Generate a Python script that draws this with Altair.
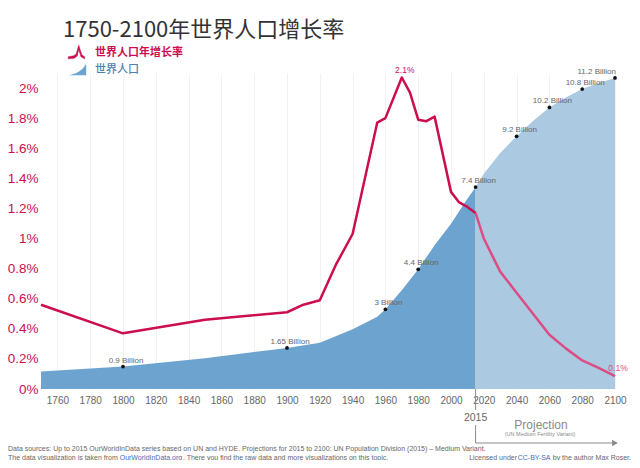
import altair as alt
import pandas as pd

# ---------------- data ----------------
RATE_H = "世界人口年增长率"
RATE_P = "世界人口年增长率（预测）"
POP_H = "世界人口"
POP_P = "世界人口（预测）"

rate_years_hist = [1750, 1800, 1850, 1900, 1910, 1920, 1930, 1940, 1955, 1960,
                   1970, 1975, 1980, 1985, 1990, 2000, 2005, 2010, 2015]
rate_hist = [0.56, 0.37, 0.46, 0.51, 0.56, 0.59, 0.83, 1.03, 1.77, 1.80,
             2.07, 1.97, 1.79, 1.78, 1.81, 1.31, 1.24, 1.21, 1.17]
rate_years_proj = [2015, 2020, 2025, 2030, 2040, 2050, 2060, 2070, 2080, 2090, 2100]
rate_proj = [1.17, 1.00, 0.89, 0.78, 0.64, 0.50, 0.36, 0.27, 0.19, 0.14, 0.085]

pop_years_hist = [1750, 1800, 1850, 1900, 1920, 1940, 1950, 1955, 1960, 1970,
                  1980, 1990, 2000, 2010, 2015]
pop_hist = [0.63, 0.81, 1.11, 1.48, 1.67, 2.15, 2.45, 2.6, 2.87, 3.56,
            4.31, 5.18, 5.95, 6.85, 7.27]
pop_years_proj = [2015, 2020, 2030, 2040, 2050, 2060, 2070, 2080, 2090, 2100]
pop_proj = [7.27, 7.75, 8.5, 9.10, 9.65, 10.14, 10.5, 10.80, 11.02, 11.2]

mark_years = [1800, 1900, 1960, 1980, 2015, 2040, 2060, 2080, 2100]
mark_pops = [0.81, 1.48, 2.87, 4.31, 7.27, 9.10, 10.14, 10.80, 11.2]
mark_texts = ["0.9 Billion", "1.65 Billion", "3 Billion", "4.4 Billion", "7.4 Billion",
              "9.2 Billion", "10.2 Billion", "10.8 Billion", "11.2 Billion"]

rate_label_years = [1970, 2100]
rate_label_values = [2.07, 0.085]
rate_label_texts = ["2.1%", "0.1%"]

x_ticks = list(range(1760, 2101, 20))
y_ticks = [0, 0.2, 0.4, 0.6, 0.8, 1.0, 1.2, 1.4, 1.6, 1.8, 2.0]
split_year = [2015]
end_year = [2100]

# ---------------- styles ----------------
RED = "#cc0e4f"
PINK = "#db4d84"
BLUE = "#6da3cf"
LIGHT_BLUE = "#abc9e1"
GRID = "#f1f1f1"
GRAY = "#8a8a8a"
LINK = "#3c6fb4"
W, H = 574, 316
FONT = "Liberation Sans"
CJK = "Noto Sans CJK SC"

x_scale = alt.Scale(domain=[1750, 2100], nice=False, zero=False)
y_rate = alt.Scale(domain=[0, 2.1], nice=False, zero=True)
y_pop = alt.Scale(domain=[0, 2.1 * 5.419], nice=False, zero=True)

x_axis = alt.Axis(values=x_ticks, format="d", title=None, ticks=False, domain=False,
                  labelColor="#666", labelFontSize=10, labelFont=FONT, labelPadding=6,
                  gridColor=GRID, labelOverlap=False, labelFlush=False)
x_enc = alt.X("year:Q", scale=x_scale, axis=x_axis)

pop_df = pd.DataFrame({
    "year": pop_years_hist + pop_years_proj,
    "pop": pop_hist + pop_proj,
    "series": [POP_H] * len(pop_hist) + [POP_P] * len(pop_proj),
})
rate_df = pd.DataFrame({
    "year": rate_years_hist + rate_years_proj,
    "rate": rate_hist + rate_proj,
    "series": [RATE_H] * len(rate_hist) + [RATE_P] * len(rate_proj),
})
marks_df = pd.DataFrame({"year": mark_years, "pop": mark_pops, "label": mark_texts})
rlab_df = pd.DataFrame({"year": rate_label_years, "rate": rate_label_values,
                        "label": rate_label_texts})

# legend icons (thick peak drawn as a thin polygon; rising area)
PEAK_PATH = ("M-1,0.42 L-0.45,0.32 L-0.22,0.12 L0.02,-0.72 L0.32,0.22 L0.6,0.42 "
             "L0.6,0.62 L0.24,0.42 L0.02,-0.3 L-0.12,0.34 L-0.42,0.56 L-1,0.62 Z")
AREA_PATH = "M-1,0.55 C-0.3,0.5 0.3,0.2 0.75,-0.55 L0.75,0.55 Z"

area = alt.Chart(pop_df).mark_area(opacity=1).encode(
    x=x_enc,
    y=alt.Y("pop:Q", scale=y_pop, axis=None, stack=None),
    fill=alt.Fill("series:N",
                  scale=alt.Scale(domain=[POP_H, POP_P], range=[BLUE, LIGHT_BLUE]),
                  legend=alt.Legend(values=[POP_H], title=None, orient="none",
                                    legendX=27, legendY=-14, padding=0,
                                    symbolType=AREA_PATH, symbolSize=420,
                                    symbolStrokeWidth=0, symbolFillColor=LIGHT_BLUE,
                                    labelColor="#4f80b5", labelFont=CJK,
                                    labelFontSize=11, labelFontWeight=500,
                                    labelOffset=6)),
)
dots = alt.Chart(marks_df).mark_circle(size=14, color="#111", opacity=1).encode(
    x=x_enc, y=alt.Y("pop:Q", scale=y_pop, axis=None))
dot_labels = alt.Chart(marks_df).transform_filter("datum.year < 2100").mark_text(
    fontSize=8, font=FONT, color="#666", dx=3, dy=-6, align="center", baseline="middle"
).encode(x=x_enc, y=alt.Y("pop:Q", scale=y_pop, axis=None), text="label:N")
dot_label_last = alt.Chart(marks_df).transform_filter("datum.year >= 2100").mark_text(
    fontSize=8, font=FONT, color="#666", dx=1, dy=-6, align="right", baseline="middle"
).encode(x=x_enc, y=alt.Y("pop:Q", scale=y_pop, axis=None), text="label:N")

pop_layer = alt.layer(area, dots, dot_labels, dot_label_last)

y_axis = alt.Axis(values=y_ticks, labelExpr="format(datum.value, '.1~f') + '%'",
                  title=None, ticks=False, domain=False, labelColor=RED,
                  labelFontSize=13.5, labelFont=FONT, labelPadding=3, gridColor=GRID)

line = alt.Chart(rate_df).mark_line(strokeWidth=2.5, strokeJoin="round").encode(
    x=x_enc,
    y=alt.Y("rate:Q", scale=y_rate, axis=y_axis),
    color=alt.Color("series:N",
                    scale=alt.Scale(domain=[RATE_H, RATE_P], range=[RED, PINK]),
                    legend=alt.Legend(values=[RATE_H], title=None, orient="none",
                                      legendX=27, legendY=-31, padding=0,
                                      symbolType=PEAK_PATH, symbolSize=420,
                                      symbolStrokeWidth=0.5, symbolFillColor=RED,
                                      labelColor=RED, labelFont=CJK, labelFontSize=11,
                                      labelFontWeight="bold", labelOffset=6)),
)
rate_labels = alt.Chart(rlab_df).mark_text(
    fontSize=8.5, font=FONT, dx=3, dy=-8, baseline="middle"
).encode(
    x=x_enc, y=alt.Y("rate:Q", scale=y_rate, axis=y_axis), text="label:N",
    color=alt.Color("label:N", scale=alt.Scale(domain=rate_label_texts, range=[RED, PINK]),
                    legend=None),
)
rate_layer = alt.layer(line, rate_labels)

# ---------------- projection marker ----------------
split_df = pd.DataFrame({"year": split_year, "end": end_year})
split_rule_top = alt.Chart(split_df).mark_rule(color=GRAY, strokeWidth=1).encode(
    x=x_enc, y=alt.value(H), y2=alt.value(337))
split_rule_bottom = alt.Chart(split_df).mark_rule(color=GRAY, strokeWidth=1).encode(
    x=x_enc, y=alt.value(352), y2=alt.value(370))
arrow_rule = alt.Chart(split_df).mark_rule(color=GRAY, strokeWidth=1).encode(
    x=x_enc, x2="end:Q", y=alt.value(370))
arrow_head = alt.Chart(split_df).mark_point(shape="triangle-right", filled=True, size=45,
                                            color=GRAY, opacity=1).encode(
    x=alt.X("end:Q", scale=x_scale, axis=x_axis), y=alt.value(370))
split_text = alt.Chart(split_df).mark_text(fontSize=10.5, font=FONT, color="#666",
                                           baseline="middle").encode(
    x=x_enc, y=alt.value(345), text=alt.value("2015"))


def note(text, x, y, size=7, color="#666", align="left", font=FONT):
    return alt.Chart(pd.DataFrame({"t": [text]})).mark_text(
        fontSize=size, font=font, color=color, align=align, baseline="middle"
    ).encode(x=alt.value(x), y=alt.value(y), text="t:N")


notes = [
    note("Projection", 500, 352, size=12, color=GRAY, align="center"),
    note("(UN Medium Fertility Variant)", 499, 361, size=5.5, color=GRAY, align="center"),
    note("Data sources:  Up to 2015 OurWorldInData series based on UN and HYDE. "
         "Projections for 2015 to 2100: UN Population Division (2015) – Medium Variant.",
         -33, 376),
    note("The data visualization is taken from ", -33, 384.5),
    note("OurWorldInData.org", 78.7, 384.5, color=LINK),
    note(". There you find the raw data and more visualizations on this topic.", 141.9, 384.5),
    note("Licensed under ", 476, 384.5, align="right"),
    note("CC-BY-SA", 509.5, 384.5, color=LINK, align="right"),
    note(" by the author Max Roser.", 590, 384.5, align="right"),
]

chart = alt.layer(
    pop_layer, rate_layer, split_rule_top, split_rule_bottom, arrow_rule, arrow_head,
    split_text, *notes
).resolve_scale(
    y="independent", color="independent", fill="independent"
).properties(
    width=W, height=H,
    background="white",
    padding={"left": 33, "top": 65, "right": 17, "bottom": 71},
    autosize=alt.AutoSizeParams(type="none"),
    title=alt.TitleParams("1750-2100年世界人口增长率", anchor="start", frame="group",
                          font=CJK, fontSize=22, fontWeight="normal", color="#333",
                          dx=22, dy=0, offset=0),
).configure_view(stroke=None)

chart.save("out.html", embed_options={"renderer": "svg", "actions": False})
